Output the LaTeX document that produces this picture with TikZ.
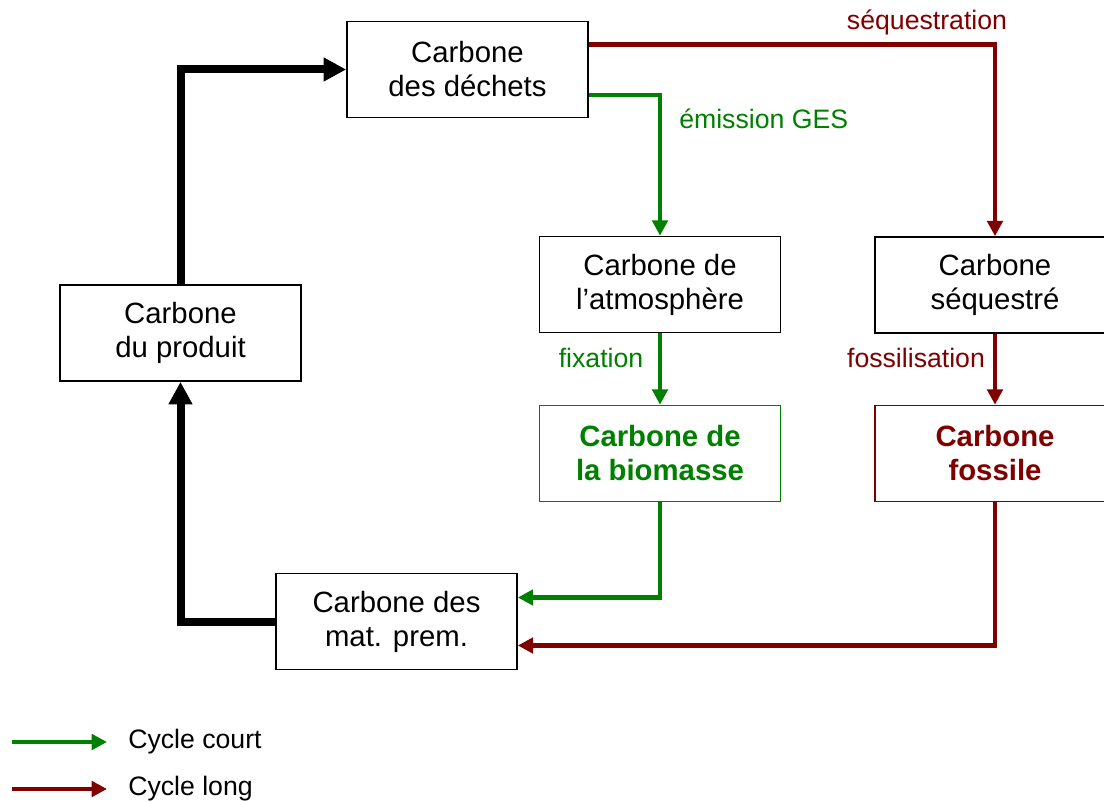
\documentclass[tikz,border=0pt]{standalone}
\usepackage{fontspec}
\setmainfont{Liberation Sans}
\usetikzlibrary{arrows.meta}
\definecolor{cgreen}{RGB}{0,128,0}
\definecolor{cred}{RGB}{128,0,0}
\tikzset{
  box/.style={draw, line width=1.2pt, minimum width=180.75pt, minimum height=72pt,
    align=center, inner sep=0pt, font=\fontsize{22}{25.5}\selectfont},
  lbl/.style={font=\fontsize{20}{24}\selectfont, inner sep=0pt},
  blk/.style={line width=6pt, -{Triangle[length=17pt,width=17pt]}},
  grn/.style={cgreen, line width=3.2pt, -{Triangle[length=11.5pt,width=11.5pt]}},
  rd/.style={cred, line width=3.2pt, -{Triangle[length=11.5pt,width=11.5pt]}},
}
\begin{document}
\begin{tikzpicture}[x=0.75pt,y=-0.75pt]
\useasboundingbox (0,0) rectangle (1104,802);
\clip (0,0) rectangle (1104,802);
\fill[white] (0,0) rectangle (1104,802);

\node[box] (dechets) at (467.5,69.5) {Carbone\\des déchets};
\node[box] (atmo) at (660,284.5) {Carbone de\\l’atmosphère};
\node[box] (produit) at (180.5,333) {Carbone\\du produit};
\node[box, draw=cgreen, text=cgreen, font=\fontsize{22}{25.5}\selectfont\bfseries] (biomasse) at (660,453.5) {Carbone de\\la biomasse};
\node[box] (matprem) at (396.5,621.5) {Carbone des\\mat. prem.};
\node[box, minimum width=180pt] (sequestre) at (995,285) {Carbone\\séquestré};
\node[box, minimum width=180pt, draw=cred, text=cred, font=\fontsize{22}{25.5}\selectfont\bfseries] (fossile) at (995,453.5) {Carbone\\fossile};

% black cycle
\draw[blk] (matprem.west) -| (produit.south);
\draw[blk] (produit.north) |- (dechets.west);

% long cycle
\draw[rd] ([yshift=18.75pt]dechets.east) -| (sequestre.north);
\draw[rd] (sequestre.south) -- (fossile.north);
\draw[rd] (fossile.south) |- ([yshift=-18pt]matprem.east);

% short cycle
\draw[grn] ([yshift=-19pt]dechets.east) -| (atmo.north);
\draw[grn] (atmo.south) -- (biomasse.north);
\draw[grn] (biomasse.south) |- ([yshift=18pt]matprem.east);

% labels
\node[lbl, text=cred] (lseq) at (927,22) {séquestration};
\node[lbl, text=cgreen, anchor=west] (lem) at (679,119) {émission GES};
\node[lbl, text=cgreen] (lfix) at (601,358) {fixation};
\node[lbl, text=cred] (lfos) at (916,358) {fossilisation};

% legend
\coordinate (g1) at (12,742);
\coordinate (g2) at (107,742);
\coordinate (r1) at (12,789);
\coordinate (r2) at (107,789);
\draw[grn] (g1) -- (g2);
\draw[rd] (r1) -- (r2);
\node[lbl, anchor=west] (lc) at (128,742) {Cycle court};
\node[lbl, anchor=west] (ll) at (128,789) {Cycle long};
\end{tikzpicture}
\end{document}
